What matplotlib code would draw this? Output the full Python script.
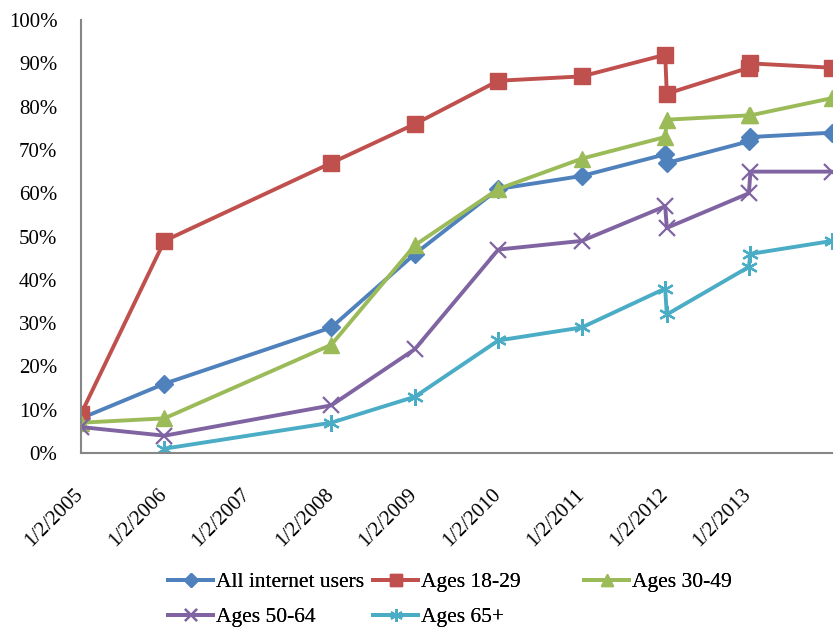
import datetime as dt
import matplotlib
matplotlib.use("Agg")
import matplotlib.pyplot as plt
import matplotlib.dates as mdates
import matplotlib.transforms as mtransforms
import numpy as np

# survey dates (two waves in 2012 and 2013)
dates = [
    dt.date(2005, 1, 2), dt.date(2006, 1, 2), dt.date(2008, 1, 2),
    dt.date(2009, 1, 2), dt.date(2010, 1, 2), dt.date(2011, 1, 2),
    dt.date(2012, 1, 2), dt.date(2012, 1, 9), dt.date(2013, 1, 2),
    dt.date(2013, 1, 9), dt.date(2014, 1, 2),
]
all_users = [8, 16, 29, 46, 61, 64, 69, 67, 72, 73, 74]
ages_18_29 = [9, 49, 67, 76, 86, 87, 92, 83, 89, 90, 89]
ages_30_49 = [7, 8, 25, 48, 61, 68, 73, 77, 78, 78, 82]
ages_50_64 = [6, 4, 11, 24, 47, 49, 57, 52, 60, 65, 65]
ages_65_up = [np.nan, 1, 7, 13, 26, 29, 38, 32, 43, 46, 49]

tick_years = list(range(2005, 2014))
tick_labels = [f"1/2/{y}" for y in tick_years]
y_ticks = list(range(0, 101, 10))

plt.rcParams["font.family"] = ["Liberation Serif", "DejaVu Serif"]

fig = plt.figure(figsize=(8.39, 6.29), dpi=100)
ax = fig.add_axes([0.0965, 0.2798, 0.8955, 0.6882])

series = [
    ("All internet users", all_users, "#4F81BD", "D", 9, 1),
    ("Ages 18-29", ages_18_29, "#C0504D", "s", 11, 1),
    ("Ages 30-49", ages_30_49, "#9BBB59", "^", 11, 1),
    ("Ages 50-64", ages_50_64, "#8064A2", "x", 11, 1.6),
    ("Ages 65+", ages_65_up, "#4BACC6", (6, 2, 0), 12, 1.6),
]
legend_ms = [7, 9, 9, 9, 9]
lines = []
for name, vals, color, mk, ms, mew in series:
    ln, = ax.plot(dates, vals, color=color, lw=2.8, marker=mk, ms=ms,
                  mew=mew, mec=color, mfc=color, label=name)
    lines.append(ln)

ax.set_xlim(dt.date(2005, 1, 2), dt.date(2014, 1, 2))
ax.set_ylim(0, 100)
ax.set_yticks(y_ticks)
ax.set_yticklabels([f"{v}%" for v in y_ticks])
ax.set_xticks([mdates.date2num(dt.date(y, 1, 2)) for y in tick_years])
ax.set_xticklabels(tick_labels, rotation=45, ha="right", va="top",
                   rotation_mode="anchor")

for side in ("top", "right"):
    ax.spines[side].set_visible(False)
for side in ("left", "bottom"):
    ax.spines[side].set_color("#868686")
    ax.spines[side].set_linewidth(1.5)
ax.tick_params(axis="both", length=0, labelsize=15, colors="black")
ax.tick_params(axis="y", pad=17)
ax.tick_params(axis="x", pad=13)

# nudge the slanted date labels left and down
shift = mtransforms.ScaledTranslation(-0.07, -0.14, fig.dpi_scale_trans)
for lbl in ax.get_xticklabels():
    lbl.set_transform(lbl.get_transform() + shift)

# legend laid out in rows, one column block at a time
legend_cols = [([0, 3], 168), ([1, 4], 373), ([2], 584)]
for idx, x_px in legend_cols:
    leg = fig.legend([lines[i] for i in idx], [series[i][0] for i in idx],
                     loc="upper left", bbox_to_anchor=(x_px / 839, 1 - 572 / 629),
                     frameon=False, fontsize=15.5, handlelength=2.1,
                     handletextpad=0.15, labelspacing=0.7, borderaxespad=0,
                     borderpad=0)
    for h, i in zip(leg.legend_handles, idx):
        h.set_markersize(legend_ms[i])
    fig.add_artist(leg)

fig.savefig("out.png", dpi=100)
